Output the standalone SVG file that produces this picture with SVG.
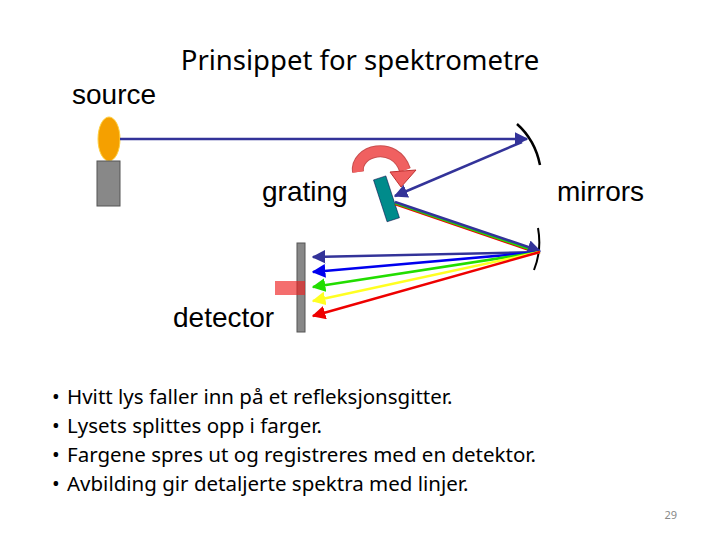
<svg xmlns="http://www.w3.org/2000/svg" width="720" height="540" viewBox="0 0 720 540">
<style>
.lbl{font-family:"Liberation Sans",Arial,sans-serif;font-size:28px;fill:#000}
.b{font-family:"Noto Sans","Open Sans",sans-serif;font-size:20.5px;fill:#000}
.ray{stroke-width:2.5;fill:none}
</style>
<defs>
<marker id="mN" viewBox="0 0 10 10" refX="9" refY="5" markerWidth="5.5" markerHeight="5.5" orient="auto" markerUnits="strokeWidth"><path d="M0,0L10,5L0,10z" fill="#333399"/></marker>
<marker id="mB" viewBox="0 0 10 10" refX="9" refY="5" markerWidth="5.5" markerHeight="5.5" orient="auto" markerUnits="strokeWidth"><path d="M0,0L10,5L0,10z" fill="#0000ee"/></marker>
<marker id="mG" viewBox="0 0 10 10" refX="9" refY="5" markerWidth="5.5" markerHeight="5.5" orient="auto" markerUnits="strokeWidth"><path d="M0,0L10,5L0,10z" fill="#22dd00"/></marker>
<marker id="mY" viewBox="0 0 10 10" refX="9" refY="5" markerWidth="5.5" markerHeight="5.5" orient="auto" markerUnits="strokeWidth"><path d="M0,0L10,5L0,10z" fill="#ffff22"/></marker>
<marker id="mR" viewBox="0 0 10 10" refX="9" refY="5" markerWidth="5.5" markerHeight="5.5" orient="auto" markerUnits="strokeWidth"><path d="M0,0L10,5L0,10z" fill="#ee0000"/></marker>
</defs>
<rect width="720" height="540" fill="#fff"/>
<text x="360" y="70" text-anchor="middle" font-family="'Noto Sans','Open Sans',sans-serif" font-size="27.5">Prinsippet for spektrometre</text>
<g id="source">
<ellipse cx="109" cy="139" rx="11" ry="22" fill="#f5a000" stroke="#ffd040" stroke-width="1"/>
<rect x="97" y="161" width="23" height="45" fill="#888" stroke="#555"/>
<text class="lbl" x="72" y="104">source</text>
</g>
<g id="mirrors">
<path d="M517,124 Q535,140 540,165" stroke="#000" stroke-width="2.5" fill="none"/>
<path d="M538,228 Q542,250 534,270" stroke="#000" stroke-width="2" fill="none"/>
<text class="lbl" x="557" y="201">mirrors</text>
</g>
<g id="grating">
<rect x="380" y="177" width="13" height="44" fill="#008b8b" stroke="#004" stroke-width="0.5" transform="rotate(-18 386 199)"/>
<path d="M358,172 C355,150 395,140 405,170" stroke="#c03030" stroke-width="12" fill="none" opacity="0.85"/>
<path d="M358,172 C355,150 395,140 405,170" stroke="#f06060" stroke-width="10" fill="none"/>
<polygon points="390,172 416,170 401,187" fill="#f06060" stroke="#c03030" stroke-width="1"/>
<text class="lbl" x="262" y="201">grating</text>
</g>
<g id="detector">
<rect x="297" y="243" width="8" height="89" fill="#888" stroke="#555"/>
<rect x="275" y="281" width="30" height="14" fill="#ee2020" opacity="0.65"/>
<text class="lbl" x="173" y="327">detector</text>
</g>
<g id="connectors">
<line class="ray" x1="120" y1="139" x2="527" y2="139" stroke="#333399" marker-end="url(#mN)"/>
<line class="ray" x1="522" y1="142" x2="395" y2="196" stroke="#333399" marker-end="url(#mN)"/>
<line class="ray" x1="395" y1="204" x2="538" y2="253" stroke="#ee0000"/>
<line class="ray" x1="395" y1="203" x2="538" y2="252" stroke="#22dd00"/>
<line class="ray" x1="395" y1="202" x2="540" y2="251" stroke="#333399" marker-end="url(#mN)"/>
<line class="ray" x1="540" y1="252" x2="313" y2="257" stroke="#333399" marker-end="url(#mN)"/>
<line class="ray" x1="540" y1="252" x2="313" y2="272" stroke="#0000ee" marker-end="url(#mB)"/>
<line class="ray" x1="540" y1="252" x2="313" y2="287" stroke="#22dd00" marker-end="url(#mG)"/>
<line class="ray" x1="540" y1="252" x2="313" y2="301" stroke="#ffff22" marker-end="url(#mY)"/>
<line class="ray" x1="540" y1="252" x2="313" y2="316" stroke="#ee0000" marker-end="url(#mR)"/>
</g>
<g id="bullets">
<text class="b" x="52" y="404">•</text><text class="b" x="67" y="404">Hvitt lys faller inn på et refleksjonsgitter.</text>
<text class="b" x="52" y="433">•</text><text class="b" x="67" y="433">Lysets splittes opp i farger.</text>
<text class="b" x="52" y="462">•</text><text class="b" x="67" y="462">Fargene spres ut og registreres med en detektor.</text>
<text class="b" x="52" y="491">•</text><text class="b" x="67" y="491">Avbilding gir detaljerte spektra med linjer.</text>
</g>
<text x="677" y="519" text-anchor="end" font-family="'Noto Sans',sans-serif" font-size="11" fill="#888">29</text>
</svg>
